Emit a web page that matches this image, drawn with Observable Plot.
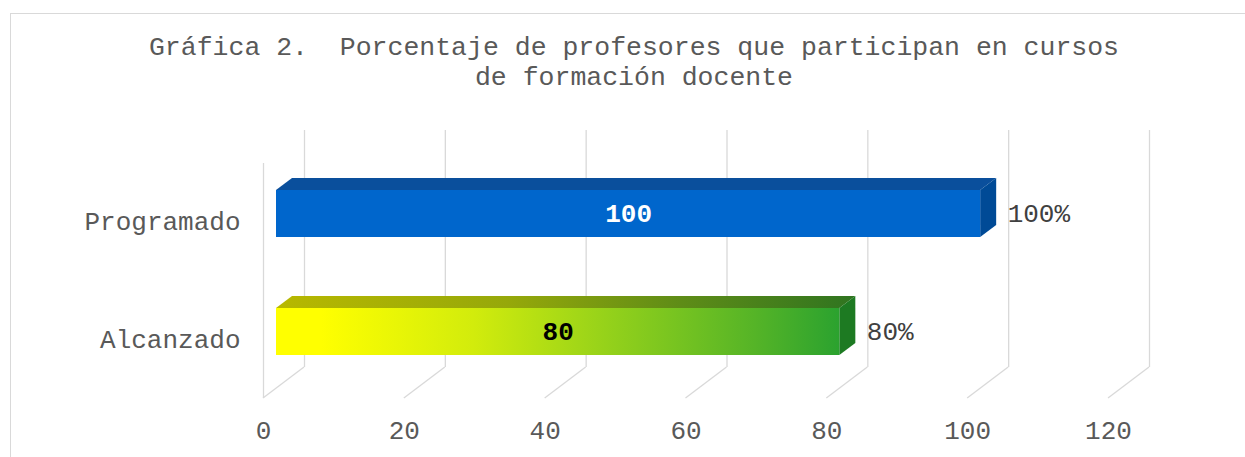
<!DOCTYPE html>
<html><head><meta charset="utf-8">
<script src="https://cdn.jsdelivr.net/npm/d3@7"></script>
<script src="https://cdn.jsdelivr.net/npm/@observablehq/plot@0.6"></script>
<style>
body{margin:0;background:#fff;width:1245px;height:457px;overflow:hidden;position:relative;font-family:"Liberation Mono",monospace;}
#box{position:absolute;left:10px;top:13px;width:1246px;height:470px;border:1px solid #d9d9d9;}
#title{position:absolute;left:10px;top:33px;width:1248px;text-align:center;font-size:26.5px;line-height:30px;color:#595959;white-space:pre;}
#chart{position:absolute;left:0;top:100px;}
</style></head><body>
<svg width="0" height="0" style="position:absolute">
  <defs>
    <linearGradient id="gFront" x1="0" x2="1" y1="0" y2="0">
      <stop offset="0" stop-color="#ffff00"/>
      <stop offset="0.08" stop-color="#ffff00"/>
      <stop offset="0.35" stop-color="#d2ec0c"/>
      <stop offset="0.6" stop-color="#92d01b"/>
      <stop offset="0.85" stop-color="#55b427"/>
      <stop offset="1" stop-color="#2ba22f"/>
    </linearGradient>
    <linearGradient id="gTop" x1="0" x2="1" y1="0" y2="0">
      <stop offset="0" stop-color="#b8b800"/>
      <stop offset="0.4" stop-color="#96a80a"/>
      <stop offset="0.7" stop-color="#5e8c17"/>
      <stop offset="1" stop-color="#2f7420"/>
    </linearGradient>
  </defs>
</svg>
<div id="box"></div>
<div id="title">Gráfica 2.  Porcentaje de profesores que participan en cursos
de formación docente</div>
<div id="chart"></div>
<script>
// ---- data ----
const categories = ["Programado", "Alcanzado"];
const values = [100, 80];
const valueLabels = ["100%", "80%"];
const insideLabels = ["100", "80"];
const xTicks = [0, 20, 40, 60, 80, 100, 120];

// ---- styling ----
const frontFill = ["#0066cc", "url(#gFront)"];
const topFill = ["#0a4f9c", "url(#gTop)"];
const sideFill = ["#004a96", "#1d7a22"];
const insideColor = ["#ffffff", "#000000"];
const DX = 16, DY = -12;          // bar depth
const FRONT = -13, BACK = 28;     // floor front / back offsets
const grid = "#d9d9d9";

const data = categories.map((c, i) => ({cat: c, value: values[i], label: valueLabels[i], inside: insideLabels[i], i}));

function floorLines(index, {x}, values, dims) {
  const g = d3.create("svg:g").attr("stroke", grid).attr("stroke-width", 1.3).attr("fill", "none");
  const yFront = dims.height - dims.marginBottom - 28;
  const yBack = yFront - 31;
  for (const t of xTicks) {
    g.append("line").attr("x1", x(t) + FRONT).attr("y1", yFront).attr("x2", x(t) + BACK).attr("y2", yBack);
  }
  return g.node();
}

function barFaces(index, {x, y}) {
  const g = d3.create("svg:g");
  const bw = y.bandwidth();
  data.forEach(d => {
    const x0 = x(0), x1 = x(d.value), y0 = y(d.cat), y1 = y0 + bw;
    g.append("path")
      .attr("d", `M${x0},${y0}L${x0 + DX},${y0 + DY}L${x1 + DX},${y0 + DY}L${x1},${y0}Z`)
      .attr("fill", topFill[d.i]);
    g.append("path")
      .attr("d", `M${x1},${y0}L${x1 + DX},${y0 + DY}L${x1 + DX},${y1 + DY}L${x1},${y1}Z`)
      .attr("fill", sideFill[d.i]);
  });
  return g.node();
}

const chart = Plot.plot({
  width: 1245,
  height: 357,
  marginLeft: 276,
  marginRight: 124,
  marginTop: 19,
  marginBottom: 31,
  style: {fontFamily: "'Liberation Mono', monospace", fontSize: "26px", color: "#595959", background: "transparent", overflow: "visible"},
  x: {domain: [0, 120], axis: null},
  y: {domain: categories, padding: 0.6, axis: null},
  marks: [
    Plot.ruleX(xTicks, {x: d => d, dx: BACK, insetTop: 11, insetBottom: 59, stroke: grid, strokeWidth: 1.3}),
    Plot.ruleX([0], {x: d => d, dx: FRONT, insetTop: 44, insetBottom: 28, stroke: grid, strokeWidth: 1.3}),
    floorLines,
    barFaces,
    ...data.map(d => Plot.barX([d], {x: "value", y: "cat", fill: frontFill[d.i]})),
    ...data.map(d => Plot.text([d], {x: v => v.value / 2, y: "cat", text: "inside", fill: insideColor[d.i], fontWeight: "bold", fontSize: 26})),
    Plot.text(data, {x: "value", y: "cat", text: "label", dx: 27, textAnchor: "start", fill: "#404040", fontSize: 26}),
    Plot.axisY({tickSize: 0, tickPadding: 36, dy: 8, fontSize: 26, fill: "#595959", label: null}),
    Plot.text(xTicks, {x: d => d, text: d => String(d), frameAnchor: "bottom", dx: FRONT, dy: 4, lineAnchor: "middle", fill: "#595959", fontSize: 26})
  ]
});
document.getElementById("chart").appendChild(chart);
</script>
</body></html>
